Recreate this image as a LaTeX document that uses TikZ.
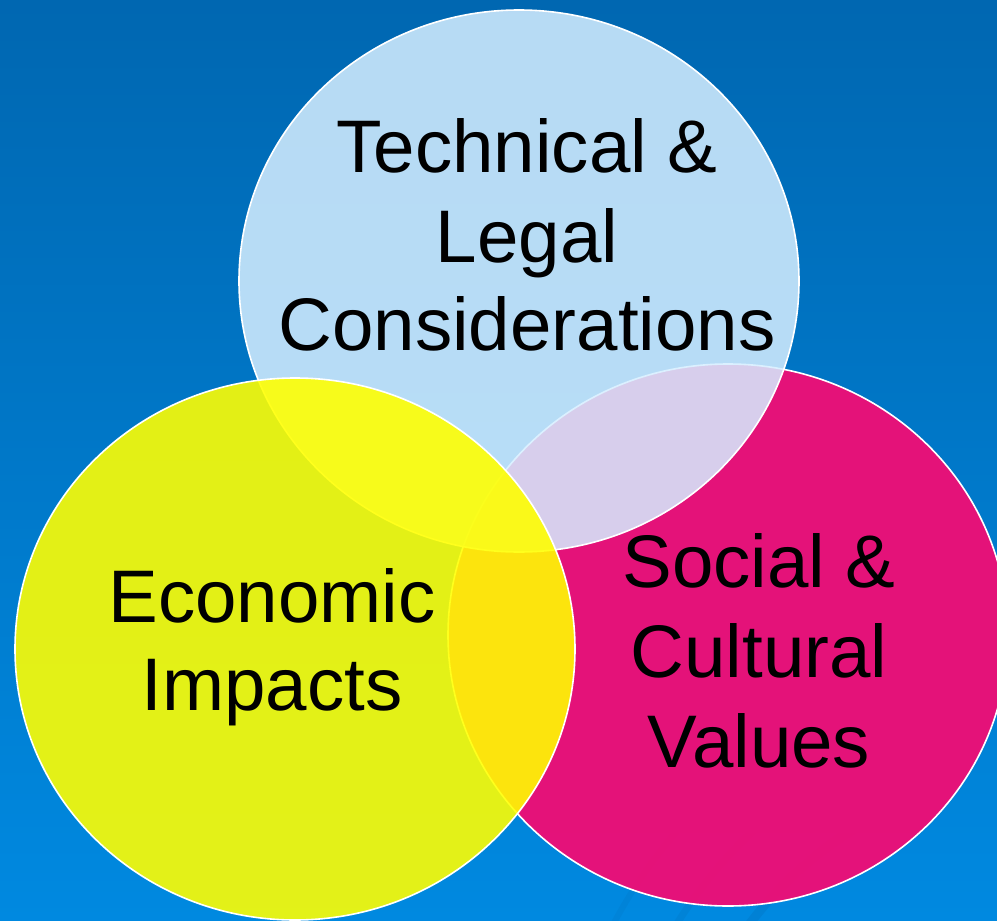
\documentclass[tikz,border=0pt]{standalone}
\usepackage{fontspec}
\setmainfont{Liberation Sans}
\definecolor{bgtop}{HTML}{0067B1}
\definecolor{bgbot}{HTML}{0089E0}
\definecolor{techfill}{HTML}{D6EEFF}
\definecolor{econfill}{HTML}{FFFF00}
\definecolor{socfill}{HTML}{EE0E76}
\definecolor{arcblue}{HTML}{005A9E}
\begin{document}
\begin{tikzpicture}[x=1pt,y=-1pt,
  bubble/.style={draw=white, line width=1.6pt},
  label/.style={font=\fontsize{74.5}{89}\selectfont, text=black, inner sep=0pt, anchor=base}]
\useasboundingbox (0,0) rectangle (997,921);
\shade[top color=bgtop, bottom color=bgbot] (0,0) rectangle (997,921);
% faint decorative arcs, bottom right
\begin{scope}
  \clip (560,800) rectangle (997,921);
  \draw[arcblue, opacity=0.16, line width=9pt] (1060,1160) circle [radius=390pt];
  \draw[arcblue, opacity=0.12, line width=7pt] (1060,1160) circle [radius=450pt];
  \draw[arcblue, opacity=0.10, line width=6pt] (1060,1160) circle [radius=505pt];
\end{scope}
% circles: magenta (bottom), light blue, yellow (top)
\path[bubble, fill=socfill, fill opacity=0.96] (728,635) ellipse [x radius=280pt, y radius=271pt];
\path[bubble, fill=techfill, fill opacity=0.86] (519,281) ellipse [x radius=280pt, y radius=271pt];
\path[bubble, fill=econfill, fill opacity=0.89] (295,649) ellipse [x radius=280pt, y radius=271pt];
% texts
\node[label] (t1) at (527,172) {Technical \&};
\node[label] (t2) at (527,262) {Legal};
\node[label] (t3) at (527,350) {Considerations};
\node[label] (e1) at (272,622) {Economic};
\node[label] (e2) at (272,710) {Impacts};
\node[label] (s1) at (759,587) {Social \&};
\node[label] (s2) at (759,677) {Cultural};
\node[label] (s3) at (759,767) {Values};
\end{tikzpicture}
\end{document}
